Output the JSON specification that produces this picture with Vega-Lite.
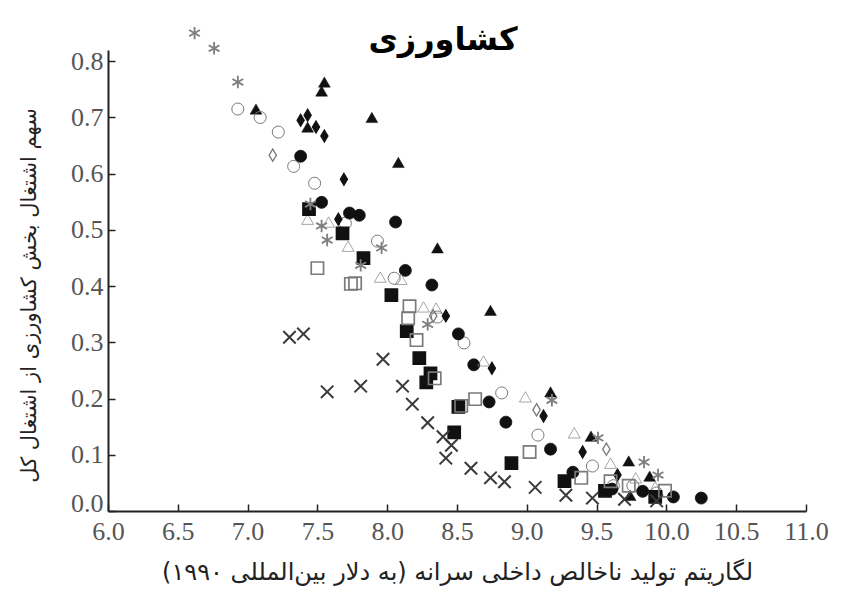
{
  "$schema": "https://vega.github.io/schema/vega-lite/v6.json",
  "autosize": {"type": "none"},
  "padding": {"left": 108, "top": 50, "right": 42, "bottom": 86},
  "width": 698,
  "height": 461,
  "background": "white",
  "title": {"text": "کشاورزی", "font": "DejaVu Sans", "fontSize": 32, "fontWeight": "bold", "color": "#000", "anchor": "middle", "frame": "group", "baseline": "middle", "offset": 8, "dx": -14, "dy": 57},
  "data": {"values": [
    {"g":"FT","x":7.06,"y":0.715},{"g":"FT","x":7.55,"y":0.763},{"g":"FT","x":7.53,"y":0.747},{"g":"FT","x":7.89,"y":0.70},{"g":"FT","x":7.43,"y":0.683},{"g":"FT","x":8.08,"y":0.62},{"g":"FT","x":8.36,"y":0.468},{"g":"FT","x":8.74,"y":0.357},{"g":"FT","x":9.17,"y":0.212},{"g":"FT","x":9.46,"y":0.133},{"g":"FT","x":9.73,"y":0.089},{"g":"FT","x":9.88,"y":0.062},{"g":"FT","x":9.74,"y":0.028},
    {"g":"OC","x":6.93,"y":0.715},{"g":"OC","x":7.09,"y":0.70},{"g":"OC","x":7.22,"y":0.674},{"g":"OC","x":7.33,"y":0.613},{"g":"OC","x":7.48,"y":0.583},{"g":"OC","x":7.70,"y":0.512},{"g":"OC","x":7.93,"y":0.48},{"g":"OC","x":8.05,"y":0.414},{"g":"OC","x":8.36,"y":0.345},{"g":"OC","x":8.55,"y":0.299},{"g":"OC","x":8.82,"y":0.21},{"g":"OC","x":9.08,"y":0.135},{"g":"OC","x":9.47,"y":0.08},{"g":"OC","x":9.62,"y":0.045},{"g":"OC","x":9.76,"y":0.045},{"g":"OC","x":9.93,"y":0.032},
    {"g":"FC","x":7.38,"y":0.631},{"g":"FC","x":7.53,"y":0.549},{"g":"FC","x":7.73,"y":0.53},{"g":"FC","x":7.80,"y":0.526},{"g":"FC","x":8.06,"y":0.514},{"g":"FC","x":8.13,"y":0.428},{"g":"FC","x":8.32,"y":0.402},{"g":"FC","x":8.51,"y":0.315},{"g":"FC","x":8.62,"y":0.26},{"g":"FC","x":8.73,"y":0.194},{"g":"FC","x":8.85,"y":0.158},{"g":"FC","x":9.17,"y":0.11},{"g":"FC","x":9.33,"y":0.069},{"g":"FC","x":9.61,"y":0.039},{"g":"FC","x":9.83,"y":0.035},{"g":"FC","x":10.05,"y":0.025},{"g":"FC","x":10.25,"y":0.023},
    {"g":"FD","x":7.38,"y":0.695},{"g":"FD","x":7.43,"y":0.704},{"g":"FD","x":7.49,"y":0.683},{"g":"FD","x":7.55,"y":0.667},{"g":"FD","x":7.69,"y":0.59},{"g":"FD","x":7.65,"y":0.519},{"g":"FD","x":8.42,"y":0.347},{"g":"FD","x":8.75,"y":0.254},{"g":"FD","x":9.12,"y":0.169},{"g":"FD","x":9.40,"y":0.105},{"g":"FD","x":9.65,"y":0.064},
    {"g":"OD","x":7.18,"y":0.633},{"g":"OD","x":8.33,"y":0.347},{"g":"OD","x":9.07,"y":0.18},{"g":"OD","x":9.57,"y":0.11},
    {"g":"OT","x":7.43,"y":0.519},{"g":"OT","x":7.58,"y":0.514},{"g":"OT","x":7.72,"y":0.471},{"g":"OT","x":7.95,"y":0.416},{"g":"OT","x":8.10,"y":0.412},{"g":"OT","x":8.26,"y":0.363},{"g":"OT","x":8.35,"y":0.361},{"g":"OT","x":8.69,"y":0.267},{"g":"OT","x":8.99,"y":0.203},{"g":"OT","x":9.34,"y":0.139},{"g":"OT","x":9.60,"y":0.085},{"g":"OT","x":9.78,"y":0.059},{"g":"OT","x":9.92,"y":0.043},
    {"g":"FS","x":7.44,"y":0.537},{"g":"FS","x":7.68,"y":0.494},{"g":"FS","x":7.83,"y":0.45},{"g":"FS","x":8.03,"y":0.384},{"g":"FS","x":8.14,"y":0.32},{"g":"FS","x":8.23,"y":0.272},{"g":"FS","x":8.31,"y":0.245},{"g":"FS","x":8.28,"y":0.229},{"g":"FS","x":8.48,"y":0.14},{"g":"FS","x":8.51,"y":0.185},{"g":"FS","x":8.89,"y":0.085},{"g":"FS","x":9.27,"y":0.053},{"g":"FS","x":9.56,"y":0.036},{"g":"FS","x":9.92,"y":0.025},
    {"g":"OS","x":7.50,"y":0.432},{"g":"OS","x":7.74,"y":0.404},{"g":"OS","x":7.77,"y":0.405},{"g":"OS","x":8.16,"y":0.364},{"g":"OS","x":8.15,"y":0.343},{"g":"OS","x":8.21,"y":0.304},{"g":"OS","x":8.34,"y":0.236},{"g":"OS","x":8.53,"y":0.187},{"g":"OS","x":8.63,"y":0.199},{"g":"OS","x":9.02,"y":0.105},{"g":"OS","x":9.39,"y":0.059},{"g":"OS","x":9.60,"y":0.053},{"g":"OS","x":9.73,"y":0.045},{"g":"OS","x":9.99,"y":0.036},
    {"g":"AS","x":6.62,"y":0.85},{"g":"AS","x":6.76,"y":0.823},{"g":"AS","x":6.93,"y":0.763},{"g":"AS","x":7.45,"y":0.546},{"g":"AS","x":7.53,"y":0.507},{"g":"AS","x":7.57,"y":0.482},{"g":"AS","x":7.96,"y":0.468},{"g":"AS","x":7.81,"y":0.437},{"g":"AS","x":8.29,"y":0.332},{"g":"AS","x":9.18,"y":0.197},{"g":"AS","x":9.51,"y":0.13},{"g":"AS","x":9.84,"y":0.087},{"g":"AS","x":9.94,"y":0.064},
    {"g":"XX","x":7.30,"y":0.309},{"g":"XX","x":7.40,"y":0.315},{"g":"XX","x":7.97,"y":0.27},{"g":"XX","x":7.57,"y":0.212},{"g":"XX","x":7.81,"y":0.222},{"g":"XX","x":8.11,"y":0.222},{"g":"XX","x":8.18,"y":0.19},{"g":"XX","x":8.29,"y":0.157},{"g":"XX","x":8.40,"y":0.132},{"g":"XX","x":8.46,"y":0.117},{"g":"XX","x":8.42,"y":0.094},{"g":"XX","x":8.60,"y":0.076},{"g":"XX","x":8.74,"y":0.059},{"g":"XX","x":8.84,"y":0.052},{"g":"XX","x":9.06,"y":0.042},{"g":"XX","x":9.28,"y":0.028},{"g":"XX","x":9.47,"y":0.023},{"g":"XX","x":9.70,"y":0.021},{"g":"XX","x":9.93,"y":0.018}
  ]},
  "mark": {"type": "point", "opacity": 1},
  "encoding": {
    "x": {"field": "x", "type": "quantitative", "scale": {"domain": [6, 11], "nice": false, "zero": false},
      "axis": {"values": [6, 6.5, 7, 7.5, 8, 8.5, 9, 9.5, 10, 10.5, 11], "format": ".1f", "title": "لگاریتم تولید ناخالص داخلی سرانه (به دلار بین‌المللی ۱۹۹۰)", "titleX": 349, "titleY": 61, "titleBaseline": "middle", "titleAlign": "center", "titleFontSize": 24, "labelPadding": 14}},
    "y": {"field": "y", "type": "quantitative", "scale": {"domain": [0, 0.82], "nice": false},
      "axis": {"values": [0, 0.1, 0.2, 0.3, 0.4, 0.5, 0.6, 0.7, 0.8], "format": ".1f", "title": "سهم اشتغال بخش کشاورزی از اشتغال کل", "titleX": -79, "titleY": 245, "titleBaseline": "middle", "titleAlign": "center", "titleAngle": 270, "titleFontSize": 21, "labelPadding": 12,
        "labelOffset": {"condition": {"test": "datum.value === 0", "value": -8}, "value": 0}}},
    "shape": {"field": "g", "type": "nominal", "legend": null, "scale": {
      "domain": ["FT","OT","FC","OC","FD","OD","FS","OS","AS","XX"],
      "range": ["triangle-up","triangle-up","circle","circle","M0,-1L0.6,0L0,1L-0.6,0Z","M0,-1L0.6,0L0,1L-0.6,0Z","square","square","M0,-1L0,1M-0.87,-0.5L0.87,0.5M-0.87,0.5L0.87,-0.5","M-1,-1L1,1M-1,1L1,-1"]}},
    "fill": {"field": "g", "type": "nominal", "legend": null, "scale": {
      "domain": ["FT","OT","FC","OC","FD","OD","FS","OS","AS","XX"],
      "range": ["#111111","transparent","#111111","transparent","#111111","transparent","#111111","transparent","transparent","transparent"]}},
    "stroke": {"field": "g", "type": "nominal", "legend": null, "scale": {
      "domain": ["FT","OT","FC","OC","FD","OD","FS","OS","AS","XX"],
      "range": ["#111111","#7a7a7a","#111111","#7a7a7a","#111111","#7a7a7a","#111111","#7a7a7a","#7f7f7f","#3a3a3a"]}},
    "strokeWidth": {"field": "g", "type": "nominal", "legend": null, "scale": {
      "domain": ["FT","OT","FC","OC","FD","OD","FS","OS","AS","XX"],
      "range": [0.5,2,0.5,2.2,0.5,1.8,0.5,2,2,2.4]}},
    "size": {"field": "g", "type": "nominal", "legend": null, "scale": {
      "domain": ["FT","OT","FC","OC","FD","OD","FS","OS","AS","XX"],
      "range": [140,155,100,85,210,190,88,88,130,60]}}
  },
  "config": {
    "view": {"stroke": null},
    "axis": {"grid": false, "domainColor": "#222", "domainWidth": 2, "tickColor": "#222", "tickWidth": 1.5, "tickSize": -7,
      "labelFont": "Liberation Serif", "labelFontSize": 26, "labelColor": "#555", "labelFlush": false, "labelOverlap": false,
      "titleFont": "DejaVu Sans", "titleFontWeight": "normal", "titleColor": "#222"}
  }
}
